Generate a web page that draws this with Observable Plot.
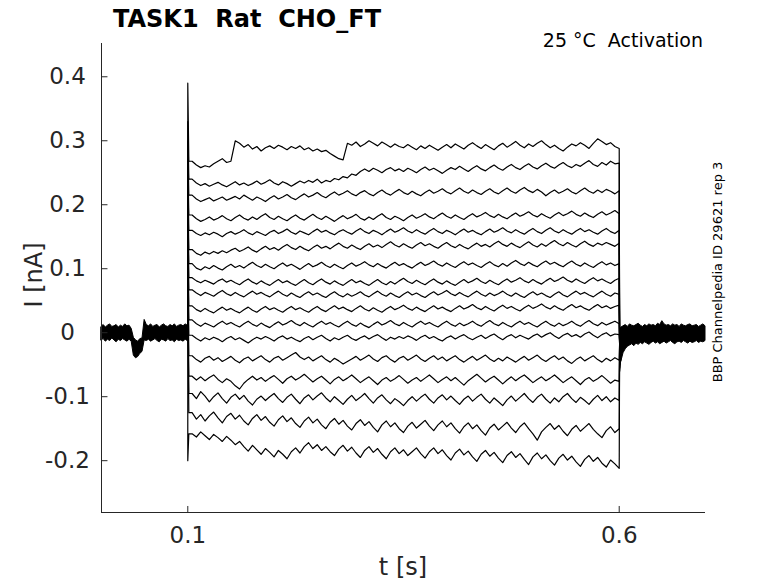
<!DOCTYPE html>
<html><head><meta charset="utf-8">
<script src="https://cdn.jsdelivr.net/npm/d3@7"></script>
<script src="https://cdn.jsdelivr.net/npm/@observablehq/plot@0.6"></script>
<style>
body{margin:0;background:#fff;}
#chart{width:778px;height:583px;}
</style></head><body><div id="chart"></div>
<script>
// axis setup
const xDomain = [0, 0.7];
const yDomain = [-0.281, 0.452];
const xTicks = [0.1, 0.6];
const yTicks = [-0.2, -0.1, 0, 0.1, 0.2, 0.3, 0.4];
const stepStart = 0.1, stepEnd = 0.6, sampleDt = 0.005, baseDt = 0.0025, decayDt = 0.0012;

// current traces during the step, in pA (x1000 = nA), sampled t = 0.100 .. 0.600 every 5 ms (first value = onset transient peak)
const tr1 = [390,268,262,258,261,259,264,268,272,266,268,300,296,290,294,287,291,284,289,292,288,293,290,286,291,288,292,286,289,284,287,283,285,280,276,272,270,296,293,298,291,295,300,296,292,298,294,290,295,291,289,294,290,286,292,288,293,289,285,290,294,289,295,291,287,293,297,292,288,294,290,286,292,296,290,294,299,293,289,295,291,296,300,294,289,293,288,284,290,295,292,297,293,288,296,303,299,294,297,291,288];
const tr2 = [330,240,234,230,233,229,232,235,231,228,232,236,231,234,230,233,237,232,235,239,234,231,236,233,229,233,237,234,238,235,240,234,238,236,241,239,244,242,248,246,252,256,252,257,254,250,255,258,253,256,252,257,254,250,255,259,254,257,253,249,254,258,255,260,256,252,257,261,256,253,258,262,257,254,259,263,258,255,260,264,259,256,261,265,260,257,262,266,261,258,263,260,265,269,263,260,266,262,268,264,265];
const tr3 = [300,215,209,205,208,211,206,209,212,207,210,213,209,215,211,207,212,209,205,210,214,209,212,216,211,208,213,217,212,215,219,214,211,216,220,215,218,222,217,214,219,222,217,214,219,223,218,215,220,224,219,216,221,217,214,219,223,218,221,225,220,217,222,226,221,218,223,219,216,221,225,220,217,222,226,221,218,223,227,222,219,224,220,214,219,223,218,221,225,220,217,222,226,221,218,223,219,224,221,217,222];
const tr4 = [270,184,178,174,177,181,176,179,183,178,175,180,184,179,176,181,177,182,186,180,177,182,178,175,180,184,179,176,181,185,180,177,182,178,174,179,183,178,181,185,179,176,181,177,182,186,180,177,182,179,175,180,184,179,182,186,181,178,183,187,182,179,184,180,177,182,186,181,184,188,183,180,185,181,178,183,187,182,185,189,184,181,186,182,179,184,188,183,186,190,185,182,187,183,180,185,189,184,187,191,186];
const tr5 = [250,160,155,152,156,153,157,154,150,155,158,154,157,161,156,153,158,155,152,157,160,155,158,162,157,154,159,156,153,158,162,157,160,156,153,158,161,157,154,159,163,158,155,160,157,153,158,162,157,160,164,159,156,161,157,154,159,163,158,155,160,157,153,158,162,157,160,156,153,158,162,157,160,164,159,156,161,157,154,159,163,158,155,160,164,159,156,161,157,154,159,163,158,161,157,154,159,163,158,155,160];
const tr6 = [230,130,124,121,126,123,127,124,128,125,129,132,127,130,134,129,126,131,135,130,133,129,134,138,133,130,135,131,128,133,137,132,135,131,136,140,135,132,137,133,130,135,139,134,137,133,138,142,137,134,139,135,132,137,141,136,139,135,132,137,141,136,133,138,134,131,136,140,135,138,134,139,143,138,135,140,136,133,138,142,137,134,139,135,140,144,139,136,141,137,134,139,143,138,135,140,137,141,138,135,140];
const tr7 = [210,108,101,98,103,100,105,101,98,103,107,102,105,101,106,110,105,102,107,103,100,105,109,104,107,103,99,104,108,103,106,110,105,102,107,103,100,105,109,104,107,111,106,103,108,104,101,106,110,105,108,104,101,106,110,105,108,112,107,104,109,105,102,107,111,106,109,105,102,107,111,106,103,108,104,109,113,108,105,110,106,103,108,112,107,110,106,103,108,112,107,104,109,105,102,107,111,106,109,105,108];
const tr8 = [190,86,81,78,82,79,76,81,84,79,82,78,75,80,84,79,76,81,77,74,79,83,78,81,77,74,79,83,78,75,80,84,79,76,81,77,74,79,83,78,81,77,74,79,83,78,75,80,76,81,85,80,77,82,78,75,80,84,79,76,81,77,74,79,83,78,81,85,80,77,82,78,75,80,84,79,82,86,81,78,83,79,76,81,85,80,83,87,82,79,84,80,77,82,86,81,84,80,77,82,85];
const tr9 = [170,67,62,58,63,60,57,62,66,61,58,63,59,56,61,65,60,63,59,56,61,65,60,57,62,58,55,60,64,59,62,58,55,60,64,59,56,61,57,60,64,59,56,61,65,60,57,62,58,55,60,64,59,62,58,55,60,64,59,62,66,61,58,63,59,56,61,65,60,57,62,58,61,65,60,57,62,58,55,60,64,59,62,58,55,60,64,59,56,61,65,60,63,59,56,61,65,60,57,62,60];
const tr10 = [150,42,36,33,38,34,31,36,40,35,38,34,31,36,40,35,32,37,41,36,39,35,32,37,41,36,39,35,32,37,41,36,33,38,42,37,40,36,33,38,42,37,34,39,35,32,37,41,36,39,43,38,35,40,36,33,38,42,37,40,36,33,38,42,37,40,44,39,36,41,37,34,39,43,38,41,37,34,39,43,38,41,45,40,37,42,38,35,40,44,39,42,38,35,40,44,39,42,38,41,43];
const tr11 = [130,20,14,10,15,12,9,14,18,13,16,12,9,14,18,13,10,15,11,8,13,17,12,15,19,14,11,16,12,9,14,18,13,16,12,9,14,18,13,10,15,11,8,13,17,12,15,19,14,11,16,12,9,14,18,13,16,12,9,14,18,13,10,15,11,14,18,13,10,15,19,14,11,16,12,9,14,18,13,16,12,9,14,18,13,10,15,11,14,18,13,10,15,19,14,11,16,12,15,18,14];
const tr12 = [110,-4,-9,-13,-8,-11,-7,-10,-14,-9,-6,-11,-8,-12,-16,-11,-7,-10,-6,-9,-13,-8,-5,-10,-7,-11,-14,-9,-6,-11,-7,-4,-9,-13,-8,-11,-7,-4,-9,-12,-8,-5,-10,-6,-3,-8,-12,-7,-10,-6,-9,-5,-8,-12,-7,-4,-9,-6,-10,-13,-8,-5,-10,-6,-3,-8,-11,-7,-4,-9,-5,-2,-7,-11,-6,-3,-8,-4,-7,-10,-5,-2,-7,-3,0,-5,-9,-4,-1,-6,-3,-7,-2,1,-4,-8,-3,0,-5,-2,-3];
const tr13 = [90,-36,-42,-46,-40,-37,-43,-39,-45,-41,-37,-43,-47,-41,-38,-44,-40,-36,-42,-46,-40,-37,-43,-39,-35,-31,-38,-42,-38,-44,-40,-36,-42,-46,-40,-44,-49,-45,-41,-37,-43,-39,-35,-41,-45,-39,-36,-42,-46,-40,-37,-43,-39,-35,-41,-45,-40,-36,-42,-38,-44,-40,-36,-42,-46,-41,-37,-43,-39,-35,-41,-45,-40,-44,-38,-42,-46,-41,-37,-43,-39,-35,-41,-45,-40,-36,-42,-38,-44,-48,-42,-38,-44,-40,-36,-42,-46,-40,-44,-39,-43];
const tr14 = [70,-68,-74,-69,-75,-70,-66,-73,-78,-72,-76,-83,-88,-79,-73,-68,-74,-70,-76,-71,-67,-73,-79,-72,-68,-74,-70,-65,-71,-77,-72,-68,-74,-80,-73,-69,-75,-71,-66,-72,-78,-73,-69,-75,-81,-74,-70,-76,-72,-67,-73,-79,-74,-70,-76,-71,-66,-72,-78,-73,-69,-75,-70,-76,-82,-75,-70,-65,-71,-77,-72,-68,-74,-80,-74,-69,-75,-70,-66,-72,-78,-73,-69,-75,-71,-66,-72,-78,-73,-69,-75,-81,-74,-70,-76,-72,-67,-73,-79,-74,-76];
const tr15 = [50,-95,-103,-92,-99,-108,-100,-94,-103,-110,-101,-96,-104,-98,-107,-113,-104,-99,-106,-100,-95,-103,-109,-101,-96,-104,-111,-102,-97,-105,-99,-94,-102,-108,-100,-106,-112,-104,-98,-106,-101,-95,-103,-110,-102,-97,-105,-111,-103,-108,-114,-106,-100,-107,-101,-96,-104,-110,-102,-97,-105,-99,-106,-112,-104,-99,-107,-101,-96,-104,-110,-102,-108,-114,-105,-99,-107,-101,-95,-103,-109,-101,-96,-104,-110,-102,-108,-100,-95,-103,-109,-101,-106,-112,-104,-98,-106,-100,-108,-102,-106];
const tr16 = [30,-125,-135,-128,-138,-130,-124,-133,-141,-131,-126,-135,-129,-138,-144,-134,-128,-137,-131,-140,-146,-136,-130,-139,-133,-142,-148,-138,-132,-141,-135,-144,-150,-140,-134,-143,-137,-146,-152,-142,-136,-145,-139,-148,-155,-144,-138,-147,-141,-150,-156,-146,-140,-149,-143,-137,-146,-153,-144,-138,-147,-141,-150,-157,-147,-141,-150,-144,-153,-160,-149,-143,-152,-146,-140,-149,-156,-147,-141,-150,-158,-168,-155,-148,-142,-151,-145,-154,-161,-151,-145,-154,-148,-142,-151,-158,-164,-153,-147,-156,-150];
const tr17 = [-200,-158,-163,-155,-161,-167,-159,-164,-170,-162,-168,-175,-170,-178,-185,-176,-183,-190,-181,-187,-194,-184,-190,-197,-186,-180,-188,-178,-172,-181,-175,-184,-178,-186,-192,-182,-176,-185,-179,-188,-195,-184,-178,-187,-181,-190,-197,-186,-180,-189,-183,-192,-186,-180,-189,-196,-186,-180,-189,-183,-192,-199,-188,-182,-191,-185,-194,-201,-190,-184,-193,-187,-196,-203,-192,-186,-195,-189,-198,-206,-194,-188,-197,-191,-200,-207,-196,-190,-199,-193,-202,-209,-198,-192,-201,-195,-204,-210,-199,-205,-212];

// tail current right after the step, pA
const tailA = [-60,-55,-50,-45,-40,-35,-30,-28,-25,-22,-20,-18,-15,-12,-10,-8,-5];
const tailB = [-20,-18,-16,-15,-14,-12,-10,-9,-8,-7,-6,-5,-4,-3,-2,-1,0];

// baseline noise envelope (all sweeps overlapping), pA, every 2.5 ms
const preUpper = [9,12,8,11,13,9,10,12,8,11,9,13,10,11,6,-8,-12,-14,-10,-9,20,12,10,13,9,11,12,8,11,13,10,9,12,10,13,9,11,12,10,13,11];
const preLower = [-12,-10,-14,-11,-13,-9,-12,-15,-11,-13,-10,-12,-14,-11,-14,-36,-40,-38,-33,-30,-12,-13,-11,-14,-12,-10,-13,-15,-11,-12,-14,-10,-13,-12,-15,-11,-13,-12,-14,-11,-13];
const postUpper = [8,10,12,9,13,11,10,12,14,11,9,12,10,13,11,12,10,14,12,18,13,11,12,10,13,11,12,9,13,11,10,12,13,10,11,12,9,11,13,10];
const postLower = [-45,-32,-26,-22,-20,-18,-21,-17,-19,-16,-18,-15,-17,-19,-16,-14,-17,-15,-18,-16,-14,-17,-15,-13,-16,-18,-15,-14,-16,-13,-15,-17,-14,-16,-15,-13,-16,-14,-15,-13];

const traces = [tr1,tr2,tr3,tr4,tr5,tr6,tr7,tr8,tr9,tr10,tr11,tr12,tr13,tr14,tr15,tr16,tr17];

const rows = [];
traces.forEach((tr, i) => {
  rows.push({id: i, t: stepStart, v: 0});
  tr.forEach((v, k) => {
    rows.push({id: i, t: stepStart + k * sampleDt, v: v / 1000});
    // the onset transient decays within about a millisecond
    if (k === 0) rows.push({id: i, t: stepStart + decayDt, v: tr[1] / 1000});
  });
  rows.push({id: i, t: stepEnd + 0.0005, v: tailA[i] / 1000});
  rows.push({id: i, t: stepEnd + 0.003, v: tailB[i] / 1000});
});
const pre = preUpper.map((u, k) => ({t: k * baseDt, lo: preLower[k] / 1000, hi: u / 1000}));
const post = postUpper.map((u, k) => ({t: stepEnd + (k + 1) * baseDt, lo: postLower[k] / 1000, hi: u / 1000}));

const axisColor = "#262626";
const plot = Plot.plot({
  width: 778, height: 583,
  marginLeft: 101, marginRight: 73, marginTop: 43, marginBottom: 71,
  x: {domain: xDomain},
  y: {domain: yDomain},
  style: {fontFamily: "DejaVu Sans", background: "white"},
  marks: [
    Plot.areaY(pre, {x: "t", y1: "lo", y2: "hi", fill: "black", stroke: "black", strokeWidth: 1}),
    Plot.areaY(post, {x: "t", y1: "lo", y2: "hi", fill: "black", stroke: "black", strokeWidth: 1}),
    Plot.line(rows, {x: "t", y: "v", z: "id", stroke: "black", strokeWidth: 1.2}),
    Plot.ruleX([xDomain[0]], {y1: yDomain[0], y2: yDomain[1], stroke: axisColor}),
    Plot.ruleY([yDomain[0]], {x1: xDomain[0], x2: xDomain[1], stroke: axisColor}),
    Plot.ruleY(yTicks, {x1: xDomain[0], x2: xDomain[0] + 0.0075, stroke: axisColor}),
    Plot.ruleX(xTicks, {y1: yDomain[0], y2: yDomain[0] + 0.0094, stroke: axisColor}),
    Plot.axisY({ticks: yTicks, tickSize: 0, tickPadding: 34, textAnchor: "middle", label: null,
      tickFormat: d => d === 0 ? "0" : d.toFixed(1), fontSize: 23, fill: axisColor}),
    Plot.axisX({ticks: xTicks, tickSize: 0, tickPadding: 14, label: null,
      tickFormat: d => String(d), fontSize: 23, fill: axisColor})
  ]
});
document.getElementById("chart").appendChild(plot);

const svg = d3.select(plot);
svg.append("text").attr("x", 247).attr("y", 27).attr("text-anchor", "middle")
  .style("white-space", "pre").attr("font-family", "DejaVu Sans").attr("font-weight", "bold")
  .attr("font-size", 24).attr("fill", "black").text("TASK1  Rat  CHO_FT");
svg.append("text").attr("x", 703).attr("y", 47).attr("text-anchor", "end")
  .style("white-space", "pre").attr("font-family", "DejaVu Sans")
  .attr("font-size", 19).attr("fill", "black").text("25 °C  Activation");
svg.append("text").attr("transform", "translate(722,272) rotate(-90)").attr("text-anchor", "middle")
  .attr("font-family", "DejaVu Sans").attr("font-size", 13).attr("fill", "black")
  .text("BBP Channelpedia ID 29621 rep 3");
svg.append("text").attr("transform", "translate(42,275) rotate(-90)").attr("text-anchor", "middle")
  .attr("font-family", "DejaVu Sans").attr("font-size", 24).attr("fill", axisColor).text("I [nA]");
svg.append("text").attr("x", 403).attr("y", 575).attr("text-anchor", "middle")
  .attr("font-family", "DejaVu Sans").attr("font-size", 24).attr("fill", axisColor).text("t [s]");
</script>
</body></html>
